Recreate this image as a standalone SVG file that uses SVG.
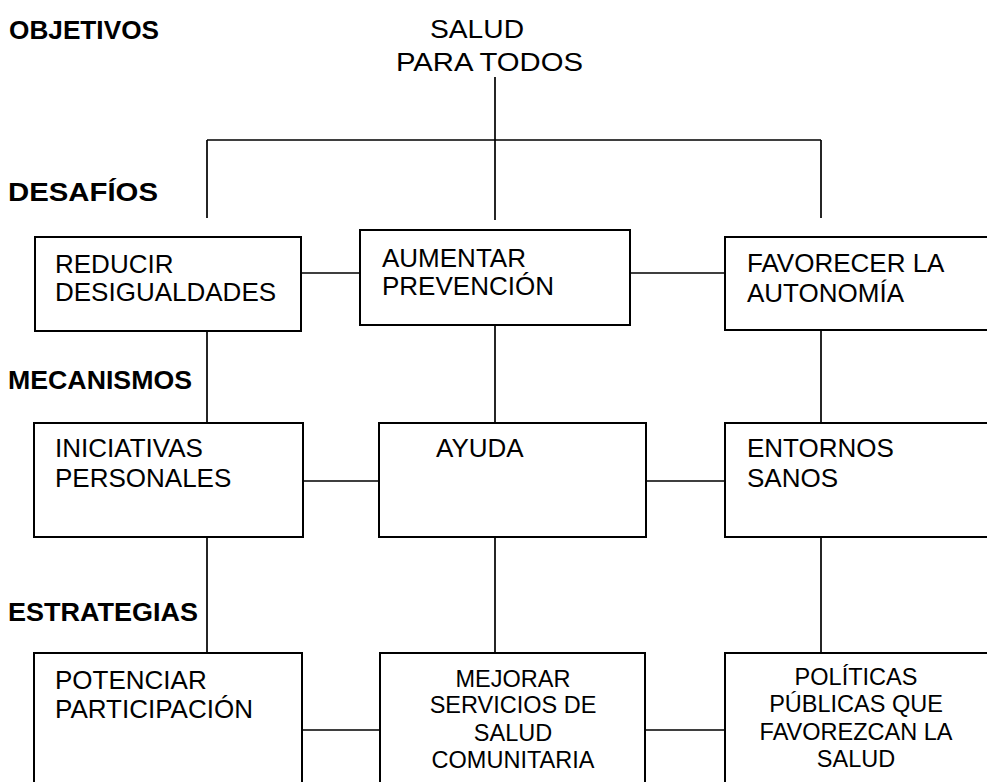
<svg xmlns="http://www.w3.org/2000/svg" width="987" height="782" viewBox="0 0 987 782">
<style>
.box{fill:#fff;stroke:#000;stroke-width:2}
.ln{stroke:#000;stroke-width:1.7;fill:none}
.t{font-family:"Liberation Sans",Arial,sans-serif;font-size:26px;fill:#000}
.s{font-family:"Liberation Sans",Arial,sans-serif;font-size:23.5px;fill:#000;text-anchor:middle}
.h{font-family:"Liberation Sans",Arial,sans-serif;font-size:25.5px;font-weight:bold;fill:#000}
</style>
<rect width="987" height="782" fill="#fff"/>
<g id="labels">
<text class="h" x="9" y="39" textLength="150" lengthAdjust="spacingAndGlyphs">OBJETIVOS</text>
<text class="h" x="8" y="201" textLength="150" lengthAdjust="spacingAndGlyphs">DESAFÍOS</text>
<text class="h" x="8" y="389" textLength="184" lengthAdjust="spacingAndGlyphs">MECANISMOS</text>
<text class="h" x="8" y="621" textLength="190" lengthAdjust="spacingAndGlyphs">ESTRATEGIAS</text>
</g>
<g id="connectors">
<path class="ln" d="M495 77V220M207 140H821M207 140V218M821 140V218"/>
<path class="ln" d="M301 273H360M630 273H725"/>
<path class="ln" d="M207 331V423M495 325V423M821 330V423"/>
<path class="ln" d="M303 481H379M646 481H725"/>
<path class="ln" d="M207 537V653M495 537V653M821 537V653"/>
<path class="ln" d="M302 730H380M645 730H725"/>
</g>
<g id="root">
<text class="t" x="430" y="38" textLength="94" lengthAdjust="spacingAndGlyphs">SALUD</text>
<text class="t" x="396" y="71" textLength="187" lengthAdjust="spacingAndGlyphs">PARA TODOS</text>
</g>
<g id="reducir">
<rect class="box" x="35" y="237" width="266" height="94"/>
<text class="t" x="55" y="273">REDUCIR</text>
<text class="t" x="55" y="301">DESIGUALDADES</text>
</g>
<g id="aumentar">
<rect class="box" x="360" y="230" width="270" height="95"/>
<text class="t" x="382" y="267">AUMENTAR</text>
<text class="t" x="382" y="295">PREVENCIÓN</text>
</g>
<g id="favorecer">
<rect class="box" x="725" y="237" width="270" height="93"/>
<text class="t" x="747" y="272">FAVORECER LA</text>
<text class="t" x="747" y="302">AUTONOMÍA</text>
</g>
<g id="iniciativas">
<rect class="box" x="34" y="423" width="269" height="114"/>
<text class="t" x="55" y="457">INICIATIVAS</text>
<text class="t" x="55" y="487">PERSONALES</text>
</g>
<g id="ayuda">
<rect class="box" x="379" y="423" width="267" height="114"/>
<text class="t" x="436" y="457">AYUDA</text>
</g>
<g id="entornos">
<rect class="box" x="725" y="423" width="270" height="114"/>
<text class="t" x="747" y="457">ENTORNOS</text>
<text class="t" x="747" y="487">SANOS</text>
</g>
<g id="potenciar">
<rect class="box" x="34" y="653" width="268" height="140"/>
<text class="t" x="55" y="689">POTENCIAR</text>
<text class="t" x="55" y="718">PARTICIPACIÓN</text>
</g>
<g id="mejorar">
<rect class="box" x="380" y="653" width="265" height="140"/>
<text class="s" x="513" y="687">MEJORAR</text>
<text class="s" x="513" y="713">SERVICIOS DE</text>
<text class="s" x="513" y="741">SALUD</text>
<text class="s" x="513" y="768">COMUNITARIA</text>
</g>
<g id="politicas">
<rect class="box" x="725" y="653" width="270" height="140"/>
<text class="s" x="856" y="685">POLÍTICAS</text>
<text class="s" x="856" y="712">PÚBLICAS QUE</text>
<text class="s" x="856" y="740">FAVOREZCAN LA</text>
<text class="s" x="856" y="767">SALUD</text>
</g>
</svg>
